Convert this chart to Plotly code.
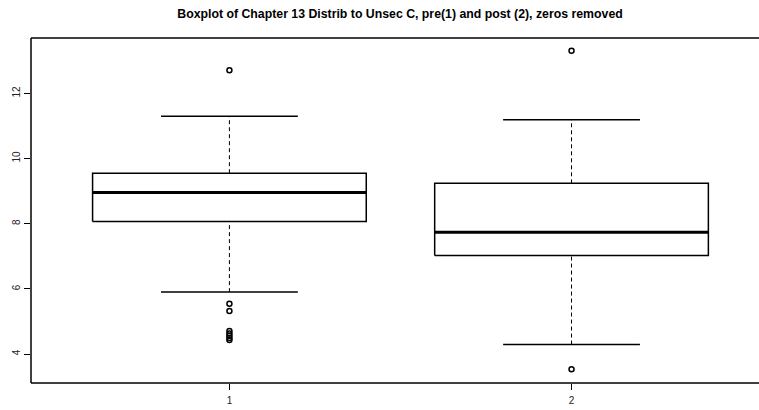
import plotly.graph_objects as go

# Summary statistics for each group (pre = 1, post = 2)
groups = [1, 2]
tick_labels = ["1", "2"]
lower_whisker = [5.90, 4.29]
q1 = [8.07, 7.02]
median = [8.96, 7.74]
q3 = [9.55, 9.24]
upper_whisker = [11.30, 11.19]
outliers = [
    [12.71, 5.54, 5.32, 4.71, 4.63, 4.56, 4.49, 4.43],
    [13.31, 3.53],
]

box_half = 0.4      # half box width (R boxwex = 0.8)
cap_half = 0.2      # half staple width
ink = "#000000"

fig = go.Figure()

for g, lo, a, m, b, hi, outs in zip(groups, lower_whisker, q1, median, q3, upper_whisker, outliers):
    # dashed whiskers
    for y0, y1 in ((lo, a), (b, hi)):
        fig.add_trace(go.Scatter(
            x=[g, g], y=[y0, y1], mode="lines",
            line=dict(color=ink, width=1, dash="4px,3px"),
            hoverinfo="skip", showlegend=False))
    # whisker staples
    for yv in (lo, hi):
        fig.add_trace(go.Scatter(
            x=[g - cap_half, g + cap_half], y=[yv, yv], mode="lines",
            line=dict(color=ink, width=1.5), hoverinfo="skip", showlegend=False))
    # box
    fig.add_trace(go.Scatter(
        x=[g - box_half, g + box_half, g + box_half, g - box_half, g - box_half],
        y=[a, a, b, b, a], mode="lines",
        line=dict(color=ink, width=1.5), hoverinfo="skip", showlegend=False))
    # median
    fig.add_trace(go.Scatter(
        x=[g - box_half, g + box_half], y=[m, m], mode="lines",
        line=dict(color=ink, width=3), hoverinfo="skip", showlegend=False))
    # outliers
    fig.add_trace(go.Scatter(
        x=[g] * len(outs), y=outs, mode="markers",
        marker=dict(symbol="circle-open", size=5, color=ink, line=dict(width=1.5)),
        hoverinfo="skip", showlegend=False))

# frame: left, top and bottom edges (right edge falls beyond the canvas)
for x0, y0, x1, y1 in ((0, 0, 0, 1), (0, 1, 1.05, 1), (0, 0, 1.05, 0)):
    fig.add_shape(type="line", xref="paper", yref="paper",
                  x0=x0, y0=y0, x1=x1, y1=y1,
                  line=dict(color=ink, width=1.5))

fig.update_layout(
    width=759, height=410,
    margin=dict(l=31, r=0, t=38, b=27),
    paper_bgcolor="white", plot_bgcolor="white",
    font=dict(family="Liberation Sans, Arial, sans-serif", color="#222222", size=10),
    title=dict(
        text="<b>Boxplot of Chapter 13 Distrib to Unsec C, pre(1) and post (2), zeros removed</b>",
        x=400 / 759, xanchor="center", y=1 - 14 / 410, yanchor="middle",
        font=dict(size=12.3, color="#000000")),
    xaxis=dict(range=[0.42, 2.548], tickvals=groups, ticktext=tick_labels,
               ticks="outside", ticklen=6, tickwidth=1.2, tickcolor=ink,
               showgrid=False, zeroline=False, showline=False,
               ticklabelstandoff=2),
    yaxis=dict(range=[3.11, 13.70], tickvals=[4, 6, 8, 10, 12],
               ticks="outside", ticklen=6, tickwidth=1.2, tickcolor=ink,
               tickangle=-90, showgrid=False, zeroline=False, showline=False,
               ticklabelstandoff=0),
)

fig.write_html("out.html")
